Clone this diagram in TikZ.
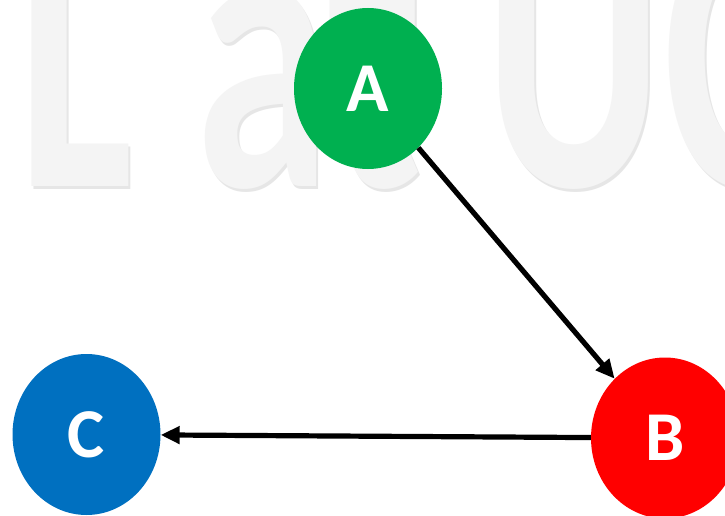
\documentclass[tikz,border=0pt]{standalone}
\usepackage{fontspec}
\usepackage{graphicx}
\usetikzlibrary{shapes.geometric,arrows.meta}
\setmainfont{Carlito}
\newfontfamily\wmfont{Carlito}
\definecolor{agreen}{HTML}{00B050}
\definecolor{bred}{HTML}{FF0000}
\definecolor{cblue}{HTML}{0070C0}
\definecolor{wmfill}{HTML}{F4F4F4}
\definecolor{wmshade}{HTML}{E6E6E6}
\tikzset{
  circ/.style={ellipse, inner sep=0pt, minimum width=148pt, minimum height=161pt,
    text=white, font=\bfseries\fontsize{70}{70}\selectfont},
  arr/.style={line width=5.2pt, -{Triangle[length=19pt,width=17pt]}},
  wm/.style={anchor=base west, inner sep=0pt, font=\wmfont\bfseries\fontsize{274}{274}\selectfont}
}
\begin{document}
\begin{tikzpicture}[x=1pt,y=-1pt]
\useasboundingbox (0,0) rectangle (725,516);
\clip (0,0) rectangle (725,516);
\fill[white] (0,0) rectangle (725,516);
\node[wm, text=wmshade] (wmshadow) at (19,189) {\scalebox{1}[1.47]{L at UC}};
\node[wm, text=wmfill] (wmtext) at (17,186) {\scalebox{1}[1.47]{L at UC}};
\node[circ, fill=agreen] (A) at (368,88.5) {A};
\node[circ, fill=bred] (B) at (665,438) {B};
\node[circ, fill=cblue] (C) at (86.5,434.5) {C};
\draw[arr] (A) -- (B);
\draw[arr] (B) -- (C);
\end{tikzpicture}
\end{document}
